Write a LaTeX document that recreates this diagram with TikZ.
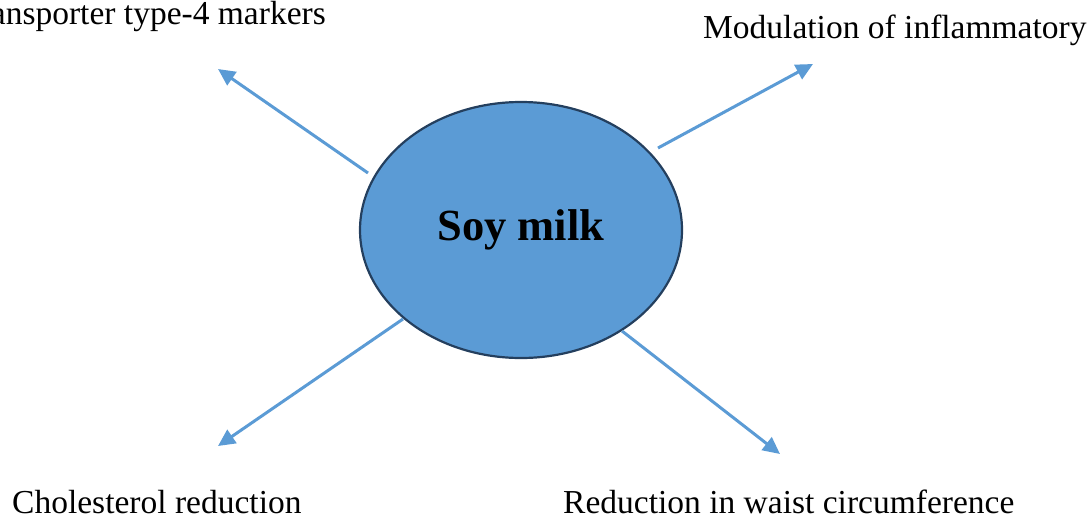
\documentclass[tikz,border=0pt]{standalone}
\usepackage{fontspec}
\setmainfont{Liberation Serif}
\usetikzlibrary{shapes.geometric,arrows.meta}
\definecolor{soyblue}{HTML}{5B9BD5}
\definecolor{soyedge}{HTML}{243F5E}
\tikzset{
  arr/.style={draw=soyblue, line width=3pt, -{Triangle[length=17pt,width=16pt]}},
  lbl/.style={inner sep=0pt, font=\fontsize{33.5}{40}\selectfont},
  soynode/.style={ellipse, draw=soyedge, line width=2.2pt, fill=soyblue,
    minimum width=322pt, minimum height=256pt, inner sep=0pt,
    font=\fontsize{44.5}{52}\selectfont\bfseries}
}
\begin{document}
\begin{tikzpicture}[x=1pt,y=-1pt]
\useasboundingbox (0,0) rectangle (1091,517);
\node[soynode] (soy) at (521,230) {Soy milk};
\node[lbl, anchor=base east] (tl) at (326,24) {ansporter type-4 markers};
\node[lbl, anchor=base west] (tr) at (703,38) {Modulation of inflammatory};
\node[lbl, anchor=base west] (bl) at (12,513) {Cholesterol reduction};
\node[lbl, anchor=base west] (br) at (563,513) {Reduction in waist circumference};
\coordinate (s1) at (368,173);
\coordinate (s2) at (658,148);
\coordinate (s3) at (403,319);
\coordinate (s4) at (622,331);
\coordinate (t1) at (218,69);
\coordinate (t2) at (813,64);
\coordinate (t3) at (218,446);
\coordinate (t4) at (780,454);
\draw[arr] (s1) -- (t1);
\draw[arr] (s2) -- (t2);
\draw[arr] (s3) -- (t3);
\draw[arr] (s4) -- (t4);
\end{tikzpicture}
\end{document}
